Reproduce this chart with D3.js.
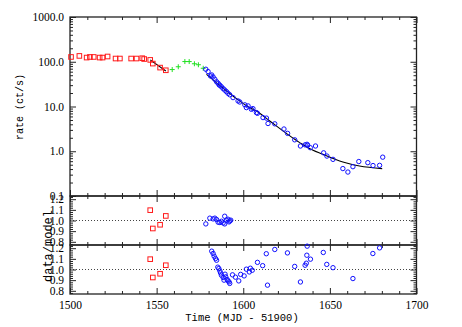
<!DOCTYPE html>
<html><head><meta charset="utf-8">
<script src="https://cdn.jsdelivr.net/npm/d3@7"></script>
<style>body{margin:0;background:#fff}svg{display:block}</style>
</head><body>
<script>
// ---- data ----
const redT    = [1500.6,1505.4,1509.6,1511.5,1513.7,1517.1,1518.8,1521.7,1526.3,1528.8,1535.3,1538.4,1541.7,1542.8,1546.3,1547.8,1552.0,1555.3];
const redRate = [128,135,124,128,128,124,124,131,118,118,118,118,120,115,110,91,74,64.5];
const greenT    = [1559.0,1562.5,1566.3,1568.8,1571.8,1574.1,1576.9];
const greenRate = [66.9,77.3,101,101,90.2,85.7,71.5];
const blueT    = [1578.4,1579.7,1581.1,1581.8,1582.6,1583.6,1584.6,1585.5,1586.1,1586.5,1587.4,1588.4,1589.3,1590.3,1591.2,1592.2,1594.1,1597.0,1598.0,1600.9,1601.8,1602.8,1604.7,1605.6,1607.6,1608.2,1611.4,1613.4,1614.3,1618.2,1623.5,1625.6,1629.7,1633.0,1635.7,1636.8,1637.2,1638.7,1641.7,1646.4,1648.3,1651.8,1657.5,1660.4,1663.3,1666.7,1671.9,1674.9,1678.7,1680.5];
const blueRate = [68.0,60.4,48.1,50.7,45.7,40.6,35.7,33.0,30.3,29.8,27.6,25.1,23.3,21.5,19.7,18.3,15.8,13.3,12.6,10.9,9.45,10.3,8.66,8.97,7.30,7.05,5.65,5.50,4.17,4.10,3.14,2.51,1.80,1.31,1.39,1.43,1.36,1.20,1.31,0.921,0.781,0.659,0.410,0.343,0.452,0.589,0.556,0.479,0.484,0.738];
const fitRedT    = [1546.3,1555.3];
const fitRedRate = [110,62.2];
const fitBlueT    = [1578.8,1594.1,1603.7,1607.6,1615.3,1629.7,1632.6,1637.3,1646.0,1657.5,1667.1,1680.2];
const fitBlueRate = [52.5,17.2,9.45,7.93,4.74,1.85,1.56,1.20,0.853,0.573,0.467,0.408];
const resRedT     = [1546.3,1547.8,1552.0,1555.3];
const resRedMid   = [1.097,0.925,0.960,1.043];
const resRedBot   = [1.097,0.925,0.960,1.040];
const resMidBlueT = [1578.4,1580.7,1582.6,1583.6,1584.6,1585.5,1586.5,1587.4,1588.4,1589.3,1589.3,1590.3,1591.2,1591.8,1592.2,1592.8];
const resMidBlue  = [0.968,1.022,1.015,1.022,1.009,0.984,0.981,0.993,0.977,1.040,0.968,1.003,1.012,0.987,0.996,1.003];
const resBotBlueT = [1581.8,1582.6,1583.2,1584.0,1584.6,1585.3,1585.9,1586.5,1586.9,1587.4,1588.4,1588.9,1589.5,1589.9,1590.7,1591.2,1591.8,1592.2,1593.8,1595.5,1597.4,1598.5,1600.5,1601.8,1603.5,1604.1,1605.2,1608.2,1611.2,1613.3,1614.0,1618.2,1625.5,1629.7,1633.0,1635.7,1636.4,1636.7,1636.9,1638.8,1646.2,1648.2,1651.8,1663.3,1674.8,1678.7];
const resBotBlue  = [1.172,1.150,1.125,1.103,1.087,1.022,1.009,0.987,0.968,0.946,0.925,0.900,0.956,0.931,0.906,0.893,0.884,0.869,0.950,0.928,0.893,0.954,0.940,1.003,0.977,1.012,0.993,1.067,1.036,1.148,0.853,1.188,1.156,1.029,0.883,1.040,1.059,1.134,1.219,1.097,1.160,1.048,1.017,0.915,1.150,1.203];
const xTicks = [1500,1550,1600,1650,1700];
const rateTicks = [0.1,1,10,100,1000];
const rateLabels = ["0.1","1.0","10.0","100.0","1000.0"];
const ratioTicks = [0.8,0.9,1.0,1.1,1.2];
const ratioLabels = ["0.8","0.9","1.0","1.1","1.2"];

// ---- layout ----
const W = 462, H = 327;
const L = 70, R = 416.5;
const P1 = [17,196], P2 = [196,245], P3 = [245,294];
const tickFont = "'Liberation Serif', 'DejaVu Serif', serif";
const titleFont = "'Liberation Mono', 'DejaVu Sans Mono', monospace";

const svg = d3.select("body").append("svg").attr("width",W).attr("height",H);

const x = d3.scaleLinear().domain([1500,1700]).range([L,R]);
const yRate = d3.scaleLog().domain([0.1,1000]).range([P1[1],P1[0]]);
const yMid = d3.scaleLinear().domain([0.77,1.23]).range([P2[1],P2[0]]);
const yBot = d3.scaleLinear().domain([0.77,1.23]).range([P3[1],P3[0]]);

const xMinor = d3.range(1500,1701,10).filter(v => v % 50 !== 0);
const rateMinor = [];
[0.1,1,10,100].forEach(d => { for (let k=2;k<=9;k++) rateMinor.push(d*k); });
const ratioMinor = d3.range(0.78,1.231,0.02).map(v=>+v.toFixed(2)).filter(v => Math.abs(v*10-Math.round(v*10))>1e-6);

function style(g){ g.select(".domain").remove(); g.selectAll("line").attr("stroke","#222").attr("stroke-width",1); }

function xAxes(top,bottom,labels){
  const gb = svg.append("g").attr("transform",`translate(0,${bottom})`)
    .call(d3.axisBottom(x).tickValues(xTicks).tickSize(-6).tickPadding(7).tickFormat(labels? d3.format("d") : ""));
  style(gb);
  gb.selectAll("text").attr("font-family",tickFont).attr("font-size",11.5).attr("fill","#000");
  const gbm = svg.append("g").attr("transform",`translate(0,${bottom})`)
    .call(d3.axisBottom(x).tickValues(xMinor).tickSize(-3).tickFormat(""));
  style(gbm);
  const gt = svg.append("g").attr("transform",`translate(0,${top})`)
    .call(d3.axisTop(x).tickValues(xTicks).tickSize(-6).tickFormat(""));
  style(gt);
  const gtm = svg.append("g").attr("transform",`translate(0,${top})`)
    .call(d3.axisTop(x).tickValues(xMinor).tickSize(-3).tickFormat(""));
  style(gtm);
}
function yAxes(scale,major,labels,minor){
  const gl = svg.append("g").attr("transform",`translate(${L},0)`)
    .call(d3.axisLeft(scale).tickValues(major).tickSize(-6).tickPadding(6).tickFormat((d,i)=>labels[i]));
  style(gl);
  gl.selectAll("text").attr("font-family",tickFont).attr("font-size",11.5).attr("fill","#000");
  const glm = svg.append("g").attr("transform",`translate(${L},0)`)
    .call(d3.axisLeft(scale).tickValues(minor).tickSize(-3).tickFormat(""));
  style(glm);
  const gr = svg.append("g").attr("transform",`translate(${R},0)`)
    .call(d3.axisRight(scale).tickValues(major).tickSize(-6).tickFormat(""));
  style(gr);
  const grm = svg.append("g").attr("transform",`translate(${R},0)`)
    .call(d3.axisRight(scale).tickValues(minor).tickSize(-3).tickFormat(""));
  style(grm);
}

// dotted unity lines
[[yMid,P2],[yBot,P3]].forEach(([s]) => {
  svg.append("line").attr("x1",L).attr("x2",R).attr("y1",s(1)).attr("y2",s(1))
    .attr("stroke","#444").attr("stroke-width",1).attr("stroke-dasharray","1,2");
});

// axes
yAxes(yRate,rateTicks,rateLabels,rateMinor);
yAxes(yMid,ratioTicks,ratioLabels,ratioMinor);
yAxes(yBot,ratioTicks,ratioLabels,ratioMinor);
xAxes(P1[0],P1[1],false);
xAxes(P2[0],P2[1],false);
xAxes(P3[0],P3[1],true);

// frames
[P1,P2,P3].forEach(p => {
  svg.append("rect").attr("x",L).attr("y",p[0]).attr("width",R-L).attr("height",p[1]-p[0])
    .attr("fill","none").attr("stroke","#222").attr("stroke-width",1.3);
});

// fit lines
const lineRate = d3.line().x(d=>x(d[0])).y(d=>yRate(d[1]));
svg.append("path").attr("d",lineRate(d3.zip(fitRedT,fitRedRate))).attr("fill","none").attr("stroke","#000").attr("stroke-width",1.1);
svg.append("path").attr("d",lineRate(d3.zip(fitBlueT,fitBlueRate)).toString()).attr("fill","none").attr("stroke","#000").attr("stroke-width",1.1)
  .attr("d", d3.line().curve(d3.curveMonotoneX).x(d=>x(d[0])).y(d=>yRate(d[1]))(d3.zip(fitBlueT,fitBlueRate)));

// markers
const RED = "#ff1a1a", BLUE = "#1010ff", GREEN = "#22e022";
function squares(ts,vs,ys){
  svg.append("g").selectAll("rect").data(d3.zip(ts,vs)).join("rect")
    .attr("x",d=>x(d[0])-2.3).attr("y",d=>ys(d[1])-2.3).attr("width",4.6).attr("height",4.6)
    .attr("fill","none").attr("stroke",RED).attr("stroke-width",1);
}
function circles(ts,vs,ys){
  svg.append("g").selectAll("circle").data(d3.zip(ts,vs)).join("circle")
    .attr("cx",d=>x(d[0])).attr("cy",d=>ys(d[1])).attr("r",2.2)
    .attr("fill","none").attr("stroke",BLUE).attr("stroke-width",1);
}
squares(redT,redRate,yRate);
svg.append("g").selectAll("path").data(d3.zip(greenT,greenRate)).join("path")
  .attr("d",d=>{const cx=x(d[0]),cy=yRate(d[1]);return `M${cx-2.5},${cy}H${cx+2.5}M${cx},${cy-2.5}V${cy+2.5}`;})
  .attr("stroke",GREEN).attr("stroke-width",1).attr("fill","none");
circles(blueT,blueRate,yRate);
squares(resRedT,resRedMid,yMid);
circles(resMidBlueT,resMidBlue,yMid);
squares(resRedT,resRedBot,yBot);
circles(resBotBlueT,resBotBlue,yBot);

// titles
svg.append("text").attr("transform","translate(23,107) rotate(-90)").attr("text-anchor","middle")
  .attr("font-family",titleFont).attr("font-size",10).text("rate (ct/s)");
svg.append("text").attr("transform","translate(52,246) rotate(-90)").attr("text-anchor","middle")
  .attr("font-family",titleFont).attr("font-size",12).text("data/model");
svg.append("text").attr("x",242).attr("y",321).attr("text-anchor","middle")
  .attr("font-family",titleFont).attr("font-size",10.5).text("Time (MJD - 51900)");
</script>
</body></html>
